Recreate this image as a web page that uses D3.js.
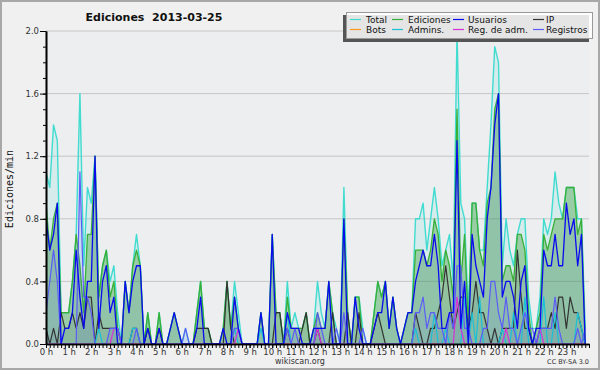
<!DOCTYPE html>
<html>
<head>
<meta charset="utf-8">
<script src="https://cdn.jsdelivr.net/npm/d3@7"></script>
<style>
  body { margin: 0; background: #f0f0f0; }
  svg { display: block; }
  text { font-family: "DejaVu Sans", Verdana, sans-serif; }
</style>
</head>
<body>
<svg></svg>
<script>
// values per 10 minutes, edits/min
const total = [
  1.1, 1.0, 1.4, 1.3, 0.2, 0.2, 0.2, 0.4, 0.7, 1.6, 0.5, 1.0,
  0.9, 1.2, 0.3, 0.5, 0.6, 0.4, 0.5, 0.2, 0, 0.4, 0.2, 0.5,
  0.7, 0.5, 0, 0.2, 0, 0, 0.2, 0, 0, 0.1, 0.2, 0.1,
  0, 0.1, 0, 0, 0.2, 0.4, 0.1, 0.1, 0, 0, 0, 0.1,
  0.4, 0.1, 0.4, 0.2, 0, 0, 0, 0, 0, 0.2, 0, 0,
  0.7, 0.2, 0.2, 0, 0.4, 0.1, 0.2, 0.1, 0.1, 0.2, 0, 0.1,
  0.4, 0.2, 0.1, 0.4, 0.2, 0.1, 0, 1.0, 0.2, 0, 0.3, 0.3,
  0.1, 0, 0, 0.2, 0.4, 0.3, 0.4, 0.1, 0.3, 0.1, 0, 0.1,
  0.2, 0.2, 0.8, 0.8, 0.9, 0.6, 0.8, 1.0, 0.8, 0.5, 0.6, 0.7,
  0.4, 2.0, 0.9, 0.8, 0.2, 0.9, 0.9, 0.6, 0.6, 1.0, 1.4, 1.9,
  1.8, 0.5, 0.8, 0.6, 0.5, 0.7, 0.8, 0.8, 0.3, 0.1, 0.1, 0.3,
  0.8, 0.7, 0.8, 1.1, 0.9, 0.8, 1.0, 1.0, 1.0, 0.8, 0.8, 0.1
];
const ediciones = [
  0.9, 0.6, 0.8, 0.9, 0.2, 0.2, 0.2, 0.4, 0.7, 0.5, 0.2, 0.7,
  0.7, 1.2, 0.3, 0.5, 0.6, 0.3, 0.4, 0.1, 0, 0.4, 0.2, 0.5,
  0.6, 0.5, 0, 0.2, 0, 0, 0.2, 0, 0, 0.1, 0.2, 0.1,
  0, 0, 0, 0, 0.2, 0.4, 0.1, 0.1, 0, 0, 0, 0.1,
  0.4, 0.1, 0.3, 0.1, 0, 0, 0, 0, 0, 0.2, 0, 0,
  0.7, 0.2, 0.2, 0, 0.3, 0.1, 0.1, 0.1, 0.1, 0.2, 0, 0.1,
  0.2, 0.1, 0.1, 0.4, 0.2, 0, 0, 0.8, 0.2, 0, 0.3, 0.3,
  0, 0, 0, 0.2, 0.4, 0.3, 0.4, 0.1, 0.3, 0.1, 0, 0.1,
  0.2, 0.2, 0.6, 0.6, 0.6, 0.5, 0.6, 0.8, 0.7, 0.4, 0.6, 0.5,
  0.3, 1.5, 0.4, 0.7, 0.1, 0.9, 0.9, 0.6, 0.5, 0.9, 1.0, 1.5,
  1.6, 0.4, 0.5, 0.5, 0.4, 0.7, 0.7, 0.6, 0.2, 0, 0.1, 0.2,
  0.7, 0.6, 0.7, 0.8, 0.8, 0.8, 1.0, 1.0, 1.0, 0.7, 0.8, 0
];
const usuarios = [
  0.8, 0.6, 0.7, 0.9, 0, 0.1, 0.1, 0.2, 0.6, 0.3, 0.1, 0.4,
  0.4, 1.2, 0.1, 0.4, 0.5, 0.2, 0.3, 0, 0, 0.4, 0.2, 0.4,
  0.5, 0.5, 0, 0.1, 0, 0, 0.1, 0, 0, 0.1, 0.2, 0.1,
  0, 0, 0, 0, 0.1, 0.3, 0, 0, 0, 0, 0, 0.1,
  0, 0, 0.3, 0.1, 0, 0, 0, 0, 0, 0.2, 0, 0,
  0.7, 0, 0, 0, 0.2, 0.1, 0.1, 0.1, 0, 0, 0, 0.1,
  0.1, 0.1, 0.1, 0.4, 0, 0, 0, 0.8, 0, 0, 0.3, 0.1,
  0, 0, 0, 0.1, 0.2, 0.2, 0.4, 0.1, 0.3, 0.1, 0, 0.1,
  0.2, 0.2, 0.4, 0.5, 0.6, 0.5, 0.5, 0.7, 0.5, 0.1, 0.1, 0.2,
  0.2, 1.3, 0.1, 0.4, 0, 0.7, 0.5, 0.4, 0.3, 0.8, 1.0, 1.4,
  1.6, 0.3, 0.4, 0.4, 0.3, 0.1, 0.4, 0.5, 0.1, 0, 0.1, 0.1,
  0.6, 0.5, 0.5, 0.7, 0.5, 0.5, 0.9, 0.7, 0.8, 0.5, 0.7, 0
];
const ip = [
  0.1, 0, 0.1, 0, 0.2, 0.1, 0.1, 0.2, 0.1, 0.2, 0.1, 0.3,
  0.3, 0, 0.2, 0.1, 0.1, 0.1, 0.1, 0.1, 0, 0, 0, 0.1,
  0.1, 0, 0, 0.1, 0, 0, 0.1, 0, 0, 0, 0, 0,
  0, 0, 0, 0, 0.1, 0.1, 0.1, 0.1, 0, 0, 0, 0,
  0.4, 0.1, 0, 0, 0, 0, 0, 0, 0, 0, 0, 0,
  0, 0.2, 0.2, 0, 0.1, 0, 0, 0, 0.1, 0.2, 0, 0,
  0.1, 0, 0, 0, 0.2, 0, 0, 0, 0.2, 0, 0, 0.2,
  0, 0, 0, 0.1, 0.2, 0.1, 0, 0, 0, 0, 0, 0,
  0, 0, 0.2, 0.1, 0, 0, 0.1, 0.1, 0.2, 0.3, 0.5, 0.3,
  0.1, 0.2, 0.3, 0.3, 0.1, 0.2, 0.4, 0.2, 0.2, 0.1, 0, 0.1,
  0, 0.1, 0.1, 0.1, 0.1, 0.6, 0.3, 0.1, 0.1, 0, 0, 0.1,
  0.1, 0.1, 0.2, 0.1, 0.3, 0.3, 0.1, 0.3, 0.2, 0.2, 0.1, 0
];
const bots = [
  0, 0, 0, 0, 0, 0, 0, 0, 0, 0, 0, 0,
  0, 0, 0, 0, 0, 0, 0, 0, 0, 0, 0, 0,
  0, 0, 0, 0, 0, 0, 0, 0, 0, 0, 0, 0,
  0, 0, 0, 0, 0, 0, 0, 0, 0, 0, 0, 0,
  0, 0, 0, 0, 0, 0, 0, 0, 0, 0, 0, 0,
  0, 0, 0, 0, 0, 0, 0, 0, 0, 0, 0, 0,
  0, 0, 0, 0, 0, 0, 0, 0, 0, 0, 0, 0,
  0, 0, 0, 0, 0, 0, 0, 0, 0, 0, 0, 0,
  0, 0, 0, 0, 0, 0, 0, 0, 0, 0, 0, 0,
  0, 0, 0, 0, 0, 0, 0, 0, 0, 0, 0, 0,
  0, 0, 0, 0, 0, 0, 0, 0, 0, 0, 0, 0,
  0, 0, 0, 0, 0, 0, 0, 0, 0, 0, 0, 0
];
const admins = [
  0, 0, 0, 0, 0, 0, 0, 0, 0, 0, 0, 0,
  0, 0, 0.1, 0, 0, 0, 0, 0, 0, 0, 0, 0.1,
  0.1, 0, 0, 0, 0, 0, 0, 0, 0, 0, 0, 0,
  0, 0, 0, 0, 0, 0, 0, 0, 0, 0, 0, 0,
  0, 0, 0.1, 0, 0, 0, 0, 0, 0, 0.1, 0, 0,
  0, 0, 0, 0, 0.2, 0, 0, 0, 0, 0, 0, 0,
  0, 0, 0, 0, 0, 0, 0, 0, 0, 0, 0, 0,
  0, 0, 0, 0, 0, 0, 0, 0, 0, 0, 0, 0,
  0, 0, 0.1, 0, 0, 0, 0, 0.2, 0, 0, 0.1, 0,
  0, 0, 0, 0.3, 0, 0.2, 0, 0.3, 0, 0, 0, 0,
  0, 0.1, 0, 0, 0.2, 0, 0, 0.3, 0, 0, 0, 0,
  0.3, 0, 0, 0.2, 0, 0, 0, 0, 0, 0.2, 0.1, 0
];
const regAdm = [
  0, 0, 0, 0, 0, 0, 0, 0, 0, 0, 0, 0,
  0, 0, 0, 0, 0, 0, 0.1, 0.1, 0, 0, 0, 0,
  0, 0, 0, 0, 0, 0, 0, 0, 0, 0, 0, 0,
  0, 0, 0, 0, 0, 0, 0, 0, 0, 0, 0, 0,
  0, 0, 0, 0.1, 0, 0, 0, 0, 0, 0, 0, 0,
  0, 0, 0, 0, 0, 0, 0, 0, 0, 0, 0, 0,
  0.1, 0, 0, 0, 0, 0, 0, 0, 0, 0, 0, 0,
  0, 0, 0, 0, 0, 0, 0, 0, 0, 0, 0, 0,
  0, 0, 0, 0, 0, 0, 0, 0, 0, 0, 0, 0,
  0, 0.3, 0.1, 0, 0, 0, 0, 0, 0, 0, 0, 0,
  0, 0, 0.1, 0, 0, 0, 0, 0, 0, 0, 0, 0.1,
  0, 0, 0, 0, 0, 0, 0, 0, 0, 0, 0, 0
];
const registros = [
  0.2, 0.4, 0.6, 0.4, 0, 0, 0, 0, 0, 1.1, 0.3, 0.3,
  0.2, 0, 0, 0, 0, 0.1, 0.1, 0.1, 0, 0, 0, 0,
  0.1, 0, 0, 0, 0, 0, 0, 0, 0, 0, 0, 0,
  0, 0.1, 0, 0, 0, 0, 0, 0, 0, 0, 0, 0,
  0, 0, 0.1, 0.1, 0, 0, 0, 0, 0, 0, 0, 0,
  0, 0, 0, 0, 0.1, 0, 0.1, 0, 0, 0, 0, 0,
  0.2, 0.1, 0, 0, 0, 0.1, 0, 0.2, 0, 0, 0, 0,
  0.1, 0, 0, 0, 0, 0, 0, 0, 0, 0, 0, 0,
  0, 0, 0.2, 0.2, 0.3, 0.1, 0.2, 0.2, 0.1, 0.1, 0, 0.2,
  0.1, 0.5, 0.5, 0.1, 0.1, 0, 0, 0, 0.1, 0.1, 0.4, 0.4,
  0.2, 0.1, 0.3, 0.1, 0.1, 0, 0.1, 0.2, 0.1, 0.1, 0, 0.1,
  0.1, 0.1, 0.1, 0.3, 0.1, 0, 0, 0, 0, 0.1, 0, 0.1
];

const hourLabels = ["0 h", "1 h", "2 h", "3 h", "4 h", "5 h", "6 h", "7 h", "8 h", "9 h", "10 h", "11 h",
  "12 h", "13 h", "14 h", "15 h", "16 h", "17 h", "18 h", "19 h", "20 h", "21 h", "22 h", "23 h"];
const yTicks = [0, 0.4, 0.8, 1.2, 1.6, 2.0];
const legendNames = ["Total", "Ediciones", "Usuarios", "IP", "Bots", "Admins.", "Reg. de adm.", "Registros"];

const W = 600, H = 370;
const margin = { top: 31, right: 11, bottom: 26, left: 46 };
const plotW = W - margin.left - margin.right;
const plotH = H - margin.top - margin.bottom;

const svg = d3.select('svg').attr('width', W).attr('height', H);

const x = d3.scaleLinear().domain([0, 24]).range([margin.left, margin.left + plotW]);
const y = d3.scaleLinear().domain([0, 2]).range([margin.top + plotH, margin.top]);

// frame + plot background
svg.append('rect').attr('x', 1).attr('y', 1).attr('width', W - 2).attr('height', H - 2)
  .attr('fill', '#f0f0f0').attr('stroke', '#a8a8a8').attr('stroke-width', 2);
svg.append('rect').attr('x', margin.left).attr('y', margin.top).attr('width', plotW).attr('height', plotH)
  .attr('fill', '#edeef0');

svg.append('g').selectAll('line').data(yTicks.slice(1)).join('line')
  .attr('x1', margin.left).attr('x2', margin.left + plotW)
  .attr('y1', d => y(d)).attr('y2', d => y(d))
  .attr('stroke', '#c6c6c6').attr('stroke-width', 1);

svg.append('clipPath').attr('id', 'clip').append('rect')
  .attr('x', margin.left).attr('y', 0).attr('width', plotW).attr('height', margin.top + plotH);

const series = [
  { name: "Total", values: total, color: "#40dcd0", fill: "#40dcd0", fillOpacity: 0.13, width: 1.4 },
  { name: "Ediciones", values: ediciones, color: "#38b038", fill: "#3ca03c", fillOpacity: 0.4, width: 1.3 },
  { name: "Usuarios", values: usuarios, color: "#0a0af0", fill: "#0a0af0", fillOpacity: 0.05, width: 1.3 },
  { name: "IP", values: ip, color: "#333333", fill: "#333333", fillOpacity: 0.07, width: 1.2 },
  { name: "Bots", values: bots, color: "#ff9922", fill: "#ff9922", fillOpacity: 0, width: 1.2 },
  { name: "Admins.", values: admins, color: "#18c0d8", fill: "#18c0d8", fillOpacity: 0, width: 1.2 },
  { name: "Reg. de adm.", values: regAdm, color: "#d830d8", fill: "#d830d8", fillOpacity: 0, width: 1.2 },
  { name: "Registros", values: registros, color: "#5c5cf8", fill: "#5c5cf8", fillOpacity: 0.1, width: 1.2 }
];

const area = d3.area()
  .x((d, i) => x(i / 6))
  .y0(y(0))
  .y1(d => y(d));
const line = d3.line()
  .x((d, i) => x(i / 6))
  .y(d => y(d));

const g = svg.append('g').attr('clip-path', 'url(#clip)');

// Total and Ediciones: area then line, so the green covers the teal where equal
series.slice(0, 2).forEach(s => {
  g.append('path').attr('d', area(s.values)).attr('fill', s.fill).attr('fill-opacity', s.fillOpacity);
  g.append('path').attr('d', line(s.values)).attr('fill', 'none')
    .attr('stroke', s.color).attr('stroke-width', s.width).attr('stroke-linejoin', 'round');
});
series.slice(2).forEach(s => {
  if (s.fillOpacity > 0)
    g.append('path').attr('d', area(s.values)).attr('fill', s.fill).attr('fill-opacity', s.fillOpacity);
});
// dark blue last so it stays on top
const lineOrder = [3, 4, 5, 6, 7, 2];
lineOrder.forEach(k => {
  const s = series[k];
  g.append('path').attr('d', line(s.values)).attr('fill', 'none')
    .attr('stroke', s.color).attr('stroke-width', s.width).attr('stroke-linejoin', 'round');
});

// axes
const yMinor = svg.append('g').attr('transform', `translate(${margin.left},0)`)
  .call(d3.axisLeft(y).tickValues(d3.range(0, 21).map(i => i / 10)).tickSize(3).tickFormat('').tickSizeOuter(0));
const yAxis = svg.append('g').attr('transform', `translate(${margin.left},0)`)
  .call(d3.axisLeft(y).tickValues(yTicks).tickSize(6).tickPadding(1).tickFormat(d3.format('.1f')).tickSizeOuter(0));
const xMinor = svg.append('g').attr('transform', `translate(0,${margin.top + plotH})`)
  .call(d3.axisBottom(x).tickValues(d3.range(0, 145).map(i => i / 6)).tickSize(4).tickFormat('').tickSizeOuter(0));
const xAxis = svg.append('g').attr('transform', `translate(0,${margin.top + plotH})`)
  .call(d3.axisBottom(x).tickValues(d3.range(0, 24)).tickSize(4).tickPadding(1)
    .tickFormat(d => hourLabels[d]).tickSizeOuter(0));

[yMinor, yAxis, xMinor, xAxis].forEach(a => {
  a.select('.domain').attr('stroke', '#000').attr('stroke-width', 1.6);
  a.selectAll('.tick line').attr('stroke', '#000').attr('stroke-width', 1);
  a.selectAll('text').attr('font-size', 8.5).attr('fill', '#333')
    .style('font-family', '"DejaVu Sans", sans-serif');
});

// title and labels
svg.append('text').attr('x', 154).attr('y', 21).attr('text-anchor', 'middle')
  .attr('font-size', 11).attr('font-weight', 'bold').attr('fill', '#111')
  .attr('xml:space', 'preserve')
  .text('Ediciones  2013-03-25');
svg.append('text').attr('transform', 'translate(13,189) rotate(-90)').attr('text-anchor', 'middle')
  .attr('font-size', 10).attr('fill', '#111').style('font-family', '"DejaVu Sans Mono", monospace')
  .text('Ediciones/min');
svg.append('text').attr('x', 300).attr('y', 364).attr('text-anchor', 'middle')
  .attr('font-size', 8).attr('fill', '#333').text('wikiscan.org');
svg.append('text').attr('x', 589).attr('y', 364).attr('text-anchor', 'end')
  .attr('font-size', 6.5).attr('fill', '#333').text('CC BY-SA 3.0');

// legend
const legend = svg.append('g');
legend.append('rect').attr('x', 343).attr('y', 15).attr('width', 246).attr('height', 27)
  .attr('fill', '#555');
legend.append('rect').attr('x', 346.5).attr('y', 12.5).attr('width', 246).attr('height', 26)
  .attr('fill', '#fff').attr('fill-opacity', 0.85).attr('stroke', '#9a9a9a').attr('stroke-width', 1);
const colLine = [350, 392, 453, 533];
const colText = [366, 408, 468, 546];
const rowY = [19.5, 29.5];
legendNames.forEach((name, k) => {
  const c = k % 4, r = Math.floor(k / 4);
  const s = series.find(d => d.name === name);
  legend.append('line').attr('x1', colLine[c]).attr('x2', colLine[c] + 11)
    .attr('y1', rowY[r]).attr('y2', rowY[r]).attr('stroke', s.color).attr('stroke-width', 1.2);
  legend.append('text').attr('x', colText[c]).attr('y', rowY[r]).attr('dy', '0.35em')
    .attr('font-size', 9).attr('fill', '#111').text(name);
});
</script>
</body>
</html>
